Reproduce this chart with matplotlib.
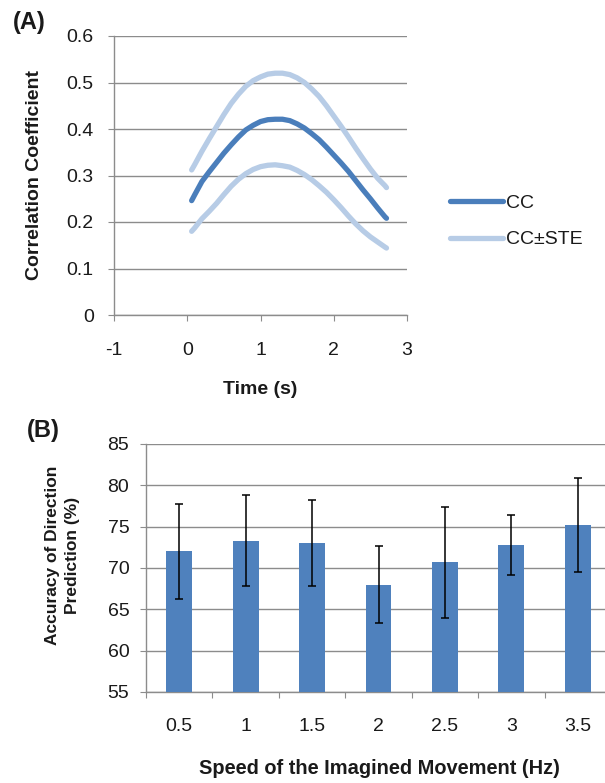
import matplotlib
matplotlib.use("Agg")
import matplotlib.pyplot as plt
import numpy as np

plt.rcParams['font.family'] = ['Liberation Sans', 'DejaVu Sans']
plt.rcParams['axes.unicode_minus'] = False

# panel A: correlation coefficient over time
t = [0.06, 0.1, 0.2, 0.3, 0.4, 0.5, 0.6, 0.7, 0.8, 0.9, 1.0, 1.1, 1.2, 1.3, 1.4,
     1.5, 1.6, 1.7, 1.8, 1.9, 2.0, 2.1, 2.2, 2.3, 2.4, 2.5, 2.6, 2.7, 2.72]
cc = [0.246, 0.258, 0.287, 0.308, 0.328, 0.348, 0.366, 0.383, 0.398, 0.408, 0.416, 0.420, 0.421, 0.421, 0.418,
      0.411, 0.402, 0.390, 0.377, 0.361, 0.344, 0.327, 0.309, 0.289, 0.269, 0.250, 0.230, 0.211, 0.208]
cc_up = [0.312, 0.323, 0.352, 0.379, 0.405, 0.431, 0.455, 0.475, 0.492, 0.504, 0.512, 0.518, 0.520, 0.520, 0.517,
         0.510, 0.500, 0.486, 0.470, 0.450, 0.428, 0.406, 0.383, 0.359, 0.336, 0.314, 0.294, 0.278, 0.274]
cc_lo = [0.180, 0.187, 0.207, 0.223, 0.240, 0.259, 0.277, 0.292, 0.304, 0.313, 0.319, 0.322, 0.323, 0.321, 0.318,
         0.311, 0.302, 0.291, 0.278, 0.264, 0.248, 0.231, 0.213, 0.196, 0.181, 0.168, 0.157, 0.146, 0.144]

# panel B: accuracy per speed
speeds = ["0.5", "1", "1.5", "2", "2.5", "3", "3.5"]
acc = [72.0, 73.3, 73.0, 68.0, 70.7, 72.8, 75.2]
acc_err = [5.8, 5.5, 5.2, 4.7, 6.7, 3.6, 5.7]

dark = "#4a7ebb"
light = "#b7cce6"
gridc = "#8c8c8c"
barc = "#4f81bd"
txt = "#1a1a1a"

fig = plt.figure(figsize=(6.05, 7.83), dpi=100)

# ---- (A)
ax1 = fig.add_axes([114/605, 1-315/783, 293/605, 279/783])
ax1.plot(t, cc_up, color=light, lw=3.8, solid_capstyle='round', label="CC±STE")
ax1.plot(t, cc_lo, color=light, lw=3.8, solid_capstyle='round')
ax1.plot(t, cc, color=dark, lw=3.8, solid_capstyle='round', label="CC")
ax1.set_xlim(-1, 3)
ax1.set_ylim(0, 0.6)
ax1.set_xticks([-1, 0, 1, 2, 3])
ax1.set_yticks([0, 0.1, 0.2, 0.3, 0.4, 0.5, 0.6])
ax1.set_yticklabels(["0", "0.1", "0.2", "0.3", "0.4", "0.5", "0.6"])
ax1.grid(axis='y', color=gridc, lw=1.0)
ax1.set_axisbelow(True)
for s in ['top', 'right']:
    ax1.spines[s].set_visible(False)
for s in ['left', 'bottom']:
    ax1.spines[s].set_color(gridc)
    ax1.spines[s].set_linewidth(1.0)
ax1.tick_params(axis='x', length=4.5, color=gridc, pad=15, labelsize=14, labelcolor=txt)
ax1.tick_params(axis='y', length=4.5, color=gridc, pad=10, labelsize=14, labelcolor=txt)
ax1.set_xlabel("Time (s)", fontsize=14, fontweight='bold', va='center', color=txt)
ax1.xaxis.set_label_coords(0.5, -(389-315)/279)
ax1.set_ylabel("Correlation Coefficient", fontsize=14, fontweight='bold', va='center', color=txt)
ax1.yaxis.set_label_coords(-(114-35)/293, 0.5)

h, l = ax1.get_legend_handles_labels()
leg = fig.legend([h[1], h[0]], [l[1], l[0]], loc='center left',
                 bbox_to_anchor=(450/605, 1-221.5/783), frameon=False,
                 fontsize=14, handlelength=2.75, handletextpad=0.12,
                 labelspacing=0.95, borderpad=0, borderaxespad=0)
for tx in leg.get_texts():
    tx.set_color(txt)

fig.text(13/605, 1-23/783, "(A)", fontsize=17, fontweight='bold', va='center', ha='left', color=txt)

# ---- (B)
ax2 = fig.add_axes([146/605, 1-692/783, 465/605, 248/783])
pos = np.arange(len(speeds))
ax2.bar(pos, acc, width=0.39, color=barc, yerr=acc_err, capsize=3.2,
        error_kw=dict(elinewidth=1.1, capthick=1.1, ecolor='black'), zorder=3)
ax2.set_xlim(-0.5, len(speeds)-0.5)
ax2.set_ylim(55, 85)
ax2.set_yticks([55, 60, 65, 70, 75, 80, 85])
ax2.set_xticks(np.arange(-0.5, len(speeds), 1))
ax2.set_xticklabels([])
ax2.set_xticks(pos, labels=speeds, minor=True)
ax2.grid(axis='y', color=gridc, lw=1.0)
ax2.set_axisbelow(True)
for s in ['top', 'right']:
    ax2.spines[s].set_visible(False)
for s in ['left', 'bottom']:
    ax2.spines[s].set_color(gridc)
    ax2.spines[s].set_linewidth(1.0)
ax2.tick_params(axis='x', which='major', length=4, color=gridc)
ax2.tick_params(axis='x', which='minor', length=0, pad=19, labelsize=14, labelcolor=txt)
ax2.tick_params(axis='y', length=4, color=gridc, pad=8, labelsize=14, labelcolor=txt)
ax2.set_xlabel("Speed of the Imagined Movement (Hz)", fontsize=14.4, fontweight='bold', va='center', color=txt)
ax2.xaxis.set_label_coords((379-146)/465, -(768-692)/248)
ax2.set_ylabel("Accuracy of Direction\nPrediction (%)", fontsize=12.5, fontweight='bold', va='center',
               color=txt, linespacing=1.4)
ax2.yaxis.set_label_coords(-(146-62.5)/465, 0.55)

fig.text(27/605, 1-430/783, "(B)", fontsize=17, fontweight='bold', va='center', ha='left', color=txt)

fig.savefig("out.png", dpi=100)
